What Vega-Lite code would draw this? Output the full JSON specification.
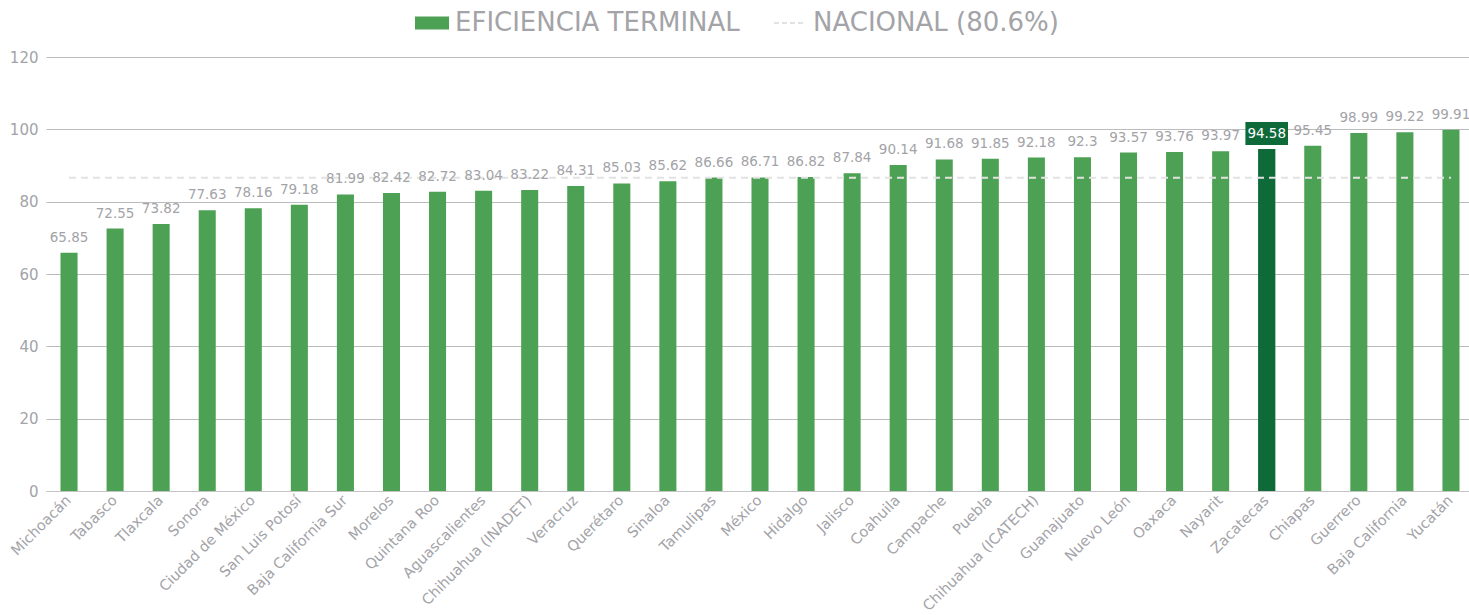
{
  "$schema": "https://vega.github.io/schema/vega-lite/v6.json",
  "width": 1428,
  "height": 434,
  "autosize": {"type": "none"},
  "padding": {"left": 46, "top": 57, "right": 0, "bottom": 124},
  "background": "white",
  "config": {
    "font": "DejaVu Sans",
    "view": {"stroke": null}
  },
  "data": {
    "values": [
      {"estado": "Michoacán", "eficiencia": 65.85, "nacional": 86.6},
      {"estado": "Tabasco", "eficiencia": 72.55, "nacional": 86.6},
      {"estado": "Tlaxcala", "eficiencia": 73.82, "nacional": 86.6},
      {"estado": "Sonora", "eficiencia": 77.63, "nacional": 86.6},
      {"estado": "Ciudad de México", "eficiencia": 78.16, "nacional": 86.6},
      {"estado": "San Luis Potosí", "eficiencia": 79.18, "nacional": 86.6},
      {"estado": "Baja California Sur", "eficiencia": 81.99, "nacional": 86.6},
      {"estado": "Morelos", "eficiencia": 82.42, "nacional": 86.6},
      {"estado": "Quintana Roo", "eficiencia": 82.72, "nacional": 86.6},
      {"estado": "Aguascalientes", "eficiencia": 83.04, "nacional": 86.6},
      {"estado": "Chihuahua (INADET)", "eficiencia": 83.22, "nacional": 86.6},
      {"estado": "Veracruz", "eficiencia": 84.31, "nacional": 86.6},
      {"estado": "Querétaro", "eficiencia": 85.03, "nacional": 86.6},
      {"estado": "Sinaloa", "eficiencia": 85.62, "nacional": 86.6},
      {"estado": "Tamulipas", "eficiencia": 86.66, "nacional": 86.6},
      {"estado": "México", "eficiencia": 86.71, "nacional": 86.6},
      {"estado": "Hidalgo", "eficiencia": 86.82, "nacional": 86.6},
      {"estado": "Jalisco", "eficiencia": 87.84, "nacional": 86.6},
      {"estado": "Coahuila", "eficiencia": 90.14, "nacional": 86.6},
      {"estado": "Campache", "eficiencia": 91.68, "nacional": 86.6},
      {"estado": "Puebla", "eficiencia": 91.85, "nacional": 86.6},
      {"estado": "Chihuahua (ICATECH)", "eficiencia": 92.18, "nacional": 86.6},
      {"estado": "Guanajuato", "eficiencia": 92.3, "nacional": 86.6},
      {"estado": "Nuevo León", "eficiencia": 93.57, "nacional": 86.6},
      {"estado": "Oaxaca", "eficiencia": 93.76, "nacional": 86.6},
      {"estado": "Nayarit", "eficiencia": 93.97, "nacional": 86.6},
      {"estado": "Zacatecas", "eficiencia": 94.58, "nacional": 86.6},
      {"estado": "Chiapas", "eficiencia": 95.45, "nacional": 86.6},
      {"estado": "Guerrero", "eficiencia": 98.99, "nacional": 86.6},
      {"estado": "Baja California", "eficiencia": 99.22, "nacional": 86.6},
      {"estado": "Yucatán", "eficiencia": 99.91, "nacional": 86.6}
    ]
  },
  "encoding": {
    "x": {
      "field": "estado",
      "type": "nominal",
      "sort": null,
      "title": null,
      "scale": {"paddingInner": 0.63, "paddingOuter": 0.315},
      "axis": {
        "labelAngle": -45,
        "labelAlign": "right",
        "labelBaseline": "middle",
        "labelFontSize": 14.5,
        "labelColor": "#a3a3a8",
        "labelPadding": 7,
        "labelLimit": 0,
        "ticks": false,
        "domain": true,
        "domainColor": "#c4c4c4",
        "grid": false
      }
    }
  },
  "layer": [
    {
      "mark": {"type": "bar"},
      "encoding": {
        "y": {
          "field": "eficiencia",
          "type": "quantitative",
          "title": null,
          "scale": {"domain": [0, 120], "nice": false},
          "axis": {
            "values": [0, 20, 40, 60, 80, 100, 120],
            "labelFontSize": 15,
            "labelColor": "#a3a3a8",
            "labelPadding": 8,
            "ticks": false,
            "domain": false,
            "grid": true,
            "gridColor": "#bcbcbc",
            "gridWidth": 1
          }
        },
        "color": {
          "datum": "EFICIENCIA TERMINAL",
          "type": "nominal",
          "scale": {
            "domain": ["EFICIENCIA TERMINAL", "NACIONAL (80.6%)"],
            "range": ["#4ca155", "#e2e2e2"]
          },
          "legend": {
            "title": null,
            "orient": "none",
            "direction": "horizontal",
            "legendX": 369,
            "legendY": -51,
            "labelFontSize": 26,
            "labelLimit": 0,
            "labelColor": "#a3a3a8",
            "labelOffset": 6,
            "symbolSize": 1024,
            "columnPadding": 30,
            "encode": {
              "symbols": {
                "update": {
                  "shape": {"signal": "datum.value == 'EFICIENCIA TERMINAL' ? 'M-1,-0.34H1V0.34H-1Z' : 'M-1,0H1'"},
                  "fill": {"signal": "datum.value == 'EFICIENCIA TERMINAL' ? '#4ca155' : 'transparent'"},
                  "stroke": {"signal": "datum.value == 'EFICIENCIA TERMINAL' ? '#4ca155' : '#e2e2e2'"},
                  "strokeWidth": {"value": 2},
                  "strokeDash": {"signal": "datum.value == 'EFICIENCIA TERMINAL' ? [] : [5, 3]"}
                }
              }
            }
          }
        }
      }
    },
    {
      "transform": [{"filter": "datum.estado == 'Zacatecas'"}],
      "mark": {"type": "bar", "color": "#0f6a3a"},
      "encoding": {
        "y": {"field": "eficiencia", "type": "quantitative"}
      }
    },
    {
      "mark": {"type": "line", "strokeDash": [7, 5], "strokeWidth": 2},
      "encoding": {
        "y": {"field": "nacional", "type": "quantitative"},
        "color": {"datum": "NACIONAL (80.6%)", "type": "nominal"}
      }
    },
    {
      "transform": [{"filter": "datum.estado == 'Zacatecas'"}],
      "mark": {"type": "bar", "color": "#0f6a3a", "yOffset": -4, "y2Offset": -27, "width": {"band": 2.5}},
      "encoding": {
        "y": {"field": "eficiencia", "type": "quantitative"},
        "y2": {"field": "eficiencia"}
      }
    },
    {
      "mark": {"type": "text", "baseline": "middle", "align": "center", "fontSize": 13.5, "dy": -15},
      "encoding": {
        "y": {"field": "eficiencia", "type": "quantitative"},
        "text": {"field": "eficiencia", "type": "quantitative"},
        "color": {
          "condition": {"test": "datum.estado == 'Zacatecas'", "value": "white"},
          "value": "#a3a3a8"
        }
      }
    }
  ]
}
